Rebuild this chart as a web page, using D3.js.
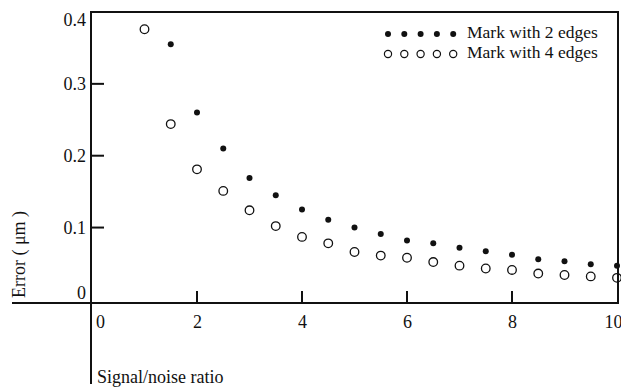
<!DOCTYPE html>
<html>
<head>
<meta charset="utf-8">
<script src="https://cdn.jsdelivr.net/npm/d3@7"></script>
<style>
  body { margin: 0; background: #fff; }
  svg { display: block; }
  text { font-family: "Liberation Serif", "DejaVu Serif", serif; fill: #111; }
  .axis text { font-size: 18px; }
</style>
</head>
<body>
<div id="graf"></div>
<script>
// data
const snrTwo = [1.5, 2, 2.5, 3, 3.5, 4, 4.5, 5, 5.5, 6, 6.5, 7, 7.5, 8, 8.5, 9, 9.5, 10]
const errTwo = [0.355, 0.260, 0.210, 0.169, 0.145, 0.125, 0.111, 0.100, 0.091, 0.082, 0.078, 0.072, 0.067, 0.062, 0.056, 0.053, 0.049, 0.047]
const snrFour = [1, 1.5, 2, 2.5, 3, 3.5, 4, 4.5, 5, 5.5, 6, 6.5, 7, 7.5, 8, 8.5, 9, 9.5, 10]
const errFour = [0.376, 0.244, 0.181, 0.151, 0.124, 0.102, 0.087, 0.078, 0.066, 0.061, 0.058, 0.052, 0.047, 0.043, 0.041, 0.036, 0.034, 0.032, 0.030]
const xTicks = [0, 2, 4, 6, 8, 10]
const yTicks = [0, 0.1, 0.2, 0.3, 0.4]
const legendLabels = ['Mark with 2 edges', 'Mark with 4 edges']

const ancho = 621
const alto = 389

const svg = d3.select('#graf')
  .append('svg')
  .attr('width', ancho)
  .attr('height', alto)

const x = d3.scaleLinear().domain([0, 10]).range([92, 617])
const y = d3.scaleLinear().domain([-0.005, 0.4]).range([303, 12])

const ink = '#111'
const x0 = x(0) - 1
const x1 = x(10) + 1
const yTop = y(0.4)
const yBase = y.range()[0]

// frame and axis lines as filled bars (2px)
const bars = [
  [12, yBase - 1, x1 + 1 - 12, 2],        // x axis, runs out to the left
  [x0 - 1, yTop - 1, 2, 384 - yTop + 1],  // y axis, runs down to the title
  [x0 - 1, yTop - 1, x1 - x0 + 2, 2],     // top
  [x1 - 1, yTop - 1, 2, yBase - yTop + 2] // right
]
svg.append('g').selectAll('rect')
  .data(bars)
  .enter()
  .append('rect')
  .attr('x', d => d[0]).attr('y', d => d[1])
  .attr('width', d => d[2]).attr('height', d => d[3])
  .attr('fill', ink)

// inward tick marks
svg.append('g').selectAll('rect')
  .data(xTicks.filter(d => d > 0 && d < 10))
  .enter()
  .append('rect')
  .attr('x', d => x(d) - 1).attr('y', yBase - 12)
  .attr('width', 2).attr('height', 12)
  .attr('fill', ink)

svg.append('g').selectAll('rect')
  .data(yTicks.filter(d => d > 0 && d < 0.4))
  .enter()
  .append('rect')
  .attr('x', x0).attr('y', d => y(d) - 1)
  .attr('width', 13).attr('height', 2)
  .attr('fill', ink)

// tick labels via d3 axes
const xAxis = d3.axisBottom(x).tickValues(xTicks).tickSize(0).tickPadding(12)
const gx = svg.append('g')
  .attr('class', 'axis')
  .attr('transform', `translate(0, ${yBase})`)
  .call(xAxis)
gx.select('.domain').remove()
gx.selectAll('.tick line').remove()
gx.selectAll('.tick').filter(d => d === 0).select('text').attr('x', 8)
gx.selectAll('.tick').filter(d => d === 10).select('text').attr('x', -4)

const yAxis = d3.axisLeft(y).tickValues(yTicks).tickSize(0).tickPadding(5)
  .tickFormat(d => d === 0 ? '0' : d.toFixed(1))
const gy = svg.append('g')
  .attr('class', 'axis')
  .attr('transform', `translate(${x0}, 0)`)
  .call(yAxis)
gy.select('.domain').remove()
gy.selectAll('.tick line').remove()
gy.selectAll('.tick').filter(d => d === 0).select('text').attr('dy', '-0.05em')
gy.selectAll('.tick').filter(d => d === 0.4).select('text').attr('dy', '0.75em')

// axis titles
svg.append('text')
  .attr('transform', 'translate(25, 298) rotate(-90)')
  .attr('font-size', 18)
  .text('Error ( μm )')

svg.append('text')
  .attr('x', 97)
  .attr('y', 383)
  .attr('font-size', 18)
  .text('Signal/noise ratio')

// points
svg.append('g').selectAll('circle')
  .data(snrTwo)
  .enter()
  .append('circle')
  .attr('cx', d => x(d))
  .attr('cy', (d, i) => y(errTwo[i]))
  .attr('r', 3)
  .attr('fill', ink)

svg.append('g').selectAll('circle')
  .data(snrFour)
  .enter()
  .append('circle')
  .attr('cx', d => x(d))
  .attr('cy', (d, i) => y(errFour[i]))
  .attr('r', 4.3)
  .attr('fill', 'none')
  .attr('stroke', ink)
  .attr('stroke-width', 1.3)

// legend
const legend = svg.append('g')
legendLabels.forEach((label, k) => {
  const cy = 34 + k * 20
  for (let j = 0; j < 5; j++) {
    const c = legend.append('circle')
      .attr('cx', 388 + j * 16.3)
      .attr('cy', cy)
    if (k === 0) c.attr('r', 3).attr('fill', ink)
    else c.attr('r', 3.6).attr('fill', 'none').attr('stroke', ink).attr('stroke-width', 1.2)
  }
  legend.append('text')
    .attr('x', 467)
    .attr('y', cy + 4)
    .attr('font-size', 17.5)
    .text(label)
})
</script>
</body>
</html>
